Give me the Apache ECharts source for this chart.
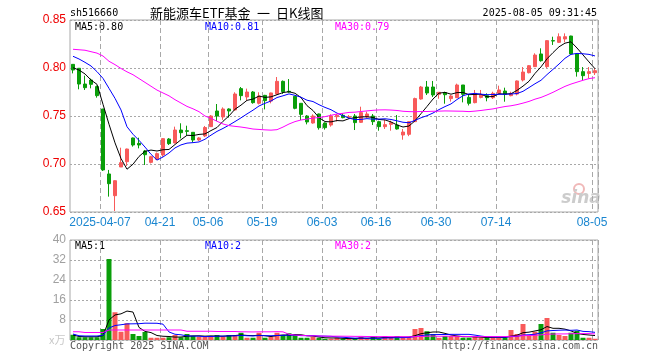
<!DOCTYPE html>
<html><head><meta charset="utf-8">
<script src="https://cdn.jsdelivr.net/npm/echarts@6/dist/echarts.min.js"></script>
<style>html,body{margin:0;padding:0;background:#fff}#c{width:660px;height:360px}</style>
</head><body><div id="c"></div>
<script>
const dates = ['2025-03-28','2025-03-31','2025-04-01','2025-04-02','2025-04-03','2025-04-07','2025-04-08','2025-04-09','2025-04-10','2025-04-11',
'2025-04-14','2025-04-15','2025-04-16','2025-04-17','2025-04-18','2025-04-21','2025-04-22','2025-04-23','2025-04-24','2025-04-25',
'2025-04-28','2025-04-29','2025-04-30','2025-05-06','2025-05-07','2025-05-08','2025-05-09','2025-05-12','2025-05-13','2025-05-14',
'2025-05-15','2025-05-16','2025-05-19','2025-05-20','2025-05-21','2025-05-22','2025-05-23','2025-05-26','2025-05-27','2025-05-28',
'2025-05-29','2025-05-30','2025-06-03','2025-06-04','2025-06-05','2025-06-06','2025-06-09','2025-06-10','2025-06-11','2025-06-12',
'2025-06-13','2025-06-16','2025-06-17','2025-06-18','2025-06-19','2025-06-20','2025-06-23','2025-06-24','2025-06-25','2025-06-26',
'2025-06-27','2025-06-30','2025-07-01','2025-07-02','2025-07-03','2025-07-04','2025-07-07','2025-07-08','2025-07-09','2025-07-10',
'2025-07-11','2025-07-14','2025-07-15','2025-07-16','2025-07-17','2025-07-18','2025-07-21','2025-07-22','2025-07-23','2025-07-24',
'2025-07-25','2025-07-28','2025-07-29','2025-07-30','2025-07-31','2025-08-01','2025-08-04','2025-08-05'];
const opens = [0.8038,0.7997,0.7833,0.7875,0.7806,0.7573,0.6896,0.6670,0.6969,0.7024,
0.7271,0.7215,0.7135,0.7017,0.7049,0.7094,0.7260,0.7219,0.7354,0.7347,
0.7330,0.7250,0.7292,0.7389,0.7552,0.7490,0.7573,0.7563,0.7785,0.7698,
0.7750,0.7632,0.7715,0.7656,0.7729,0.7861,0.7757,0.7705,0.7632,0.7500,
0.7427,0.7521,0.7427,0.7406,0.7493,0.7507,0.7486,0.7500,0.7434,0.7490,
0.7500,0.7441,0.7389,0.7413,0.7406,0.7302,0.7309,0.7441,0.7677,0.7802,
0.7802,0.7726,0.7743,0.7681,0.7691,0.7823,0.7694,0.7639,0.7694,0.7712,
0.7691,0.7736,0.7760,0.7712,0.7729,0.7875,0.7951,0.8014,0.8146,0.8014,
0.8285,0.8267,0.8302,0.8333,0.8146,0.7962,0.7944,0.7951];
const closes = [0.7979,0.7833,0.7795,0.7830,0.7712,0.6938,0.6795,0.6826,0.7014,0.7156,
0.7198,0.7198,0.7097,0.7076,0.7108,0.7264,0.7212,0.7354,0.7326,0.7340,
0.7250,0.7271,0.7380,0.7500,0.7500,0.7573,0.7552,0.7729,0.7712,0.7750,
0.7639,0.7708,0.7660,0.7740,0.7861,0.7753,0.7750,0.7580,0.7517,0.7438,
0.7500,0.7378,0.7378,0.7500,0.7507,0.7483,0.7493,0.7431,0.7535,0.7521,
0.7441,0.7389,0.7410,0.7430,0.7365,0.7333,0.7441,0.7681,0.7802,0.7740,
0.7719,0.7747,0.7722,0.7708,0.7823,0.7726,0.7632,0.7736,0.7719,0.7691,
0.7736,0.7771,0.7726,0.7736,0.7865,0.7958,0.8024,0.8135,0.8076,0.8285,
0.8281,0.8326,0.8326,0.8146,0.7962,0.7920,0.7962,0.7972];
const lows = [0.7944,0.7778,0.7771,0.7788,0.7691,0.6927,0.6660,0.6510,0.6969,0.6979,
0.7181,0.7163,0.6990,0.7006,0.7040,0.7076,0.7198,0.7215,0.7267,0.7302,
0.7226,0.7240,0.7280,0.7385,0.7448,0.7460,0.7483,0.7555,0.7663,0.7660,
0.7628,0.7620,0.7569,0.7632,0.7720,0.7730,0.7743,0.7570,0.7458,0.7413,
0.7420,0.7358,0.7358,0.7389,0.7444,0.7476,0.7470,0.7354,0.7427,0.7480,
0.7406,0.7347,0.7365,0.7347,0.7358,0.7253,0.7290,0.7441,0.7670,0.7719,
0.7698,0.7680,0.7628,0.7650,0.7688,0.7642,0.7610,0.7632,0.7684,0.7653,
0.7677,0.7730,0.7649,0.7705,0.7715,0.7860,0.7944,0.8010,0.8066,0.8000,
0.8240,0.8260,0.8267,0.8140,0.7910,0.7875,0.7892,0.7927];
const highs = [0.8040,0.8000,0.7920,0.7890,0.7817,0.7573,0.6938,0.6830,0.7170,0.7160,
0.7275,0.7274,0.7146,0.7085,0.7120,0.7270,0.7270,0.7389,0.7424,0.7399,
0.7330,0.7280,0.7396,0.7510,0.7625,0.7590,0.7580,0.7747,0.7802,0.7785,
0.7760,0.7747,0.7720,0.7743,0.7906,0.7870,0.7885,0.7705,0.7630,0.7510,
0.7517,0.7525,0.7433,0.7517,0.7521,0.7528,0.7510,0.7521,0.7597,0.7545,
0.7521,0.7451,0.7458,0.7451,0.7510,0.7365,0.7445,0.7691,0.7813,0.7865,
0.7865,0.7750,0.7753,0.7719,0.7837,0.7823,0.7720,0.7771,0.7771,0.7736,
0.7753,0.7816,0.7795,0.7753,0.7870,0.8010,0.8031,0.8153,0.8205,0.8290,
0.8326,0.8361,0.8361,0.8336,0.8150,0.8010,0.8010,0.7996];
const volumes = [2.1,1.1,1.1,1.1,1.1,4.4,32.4,11.1,3.3,6.7,
2.4,1.6,3.2,0.9,0.9,0.9,1.1,2.0,1.1,2.4,
1.6,1.3,1.3,1.6,2.0,1.3,2.0,2.0,2.9,0.9,
0.9,2.9,0.9,1.3,2.9,2.0,2.7,2.0,0.9,0.9,
1.3,0.9,0.5,0.5,0.9,0.5,0.5,0.5,1.3,0.5,
1.3,0.5,1.6,0.9,1.6,0.9,0.9,4.4,4.8,3.5,
2.4,0.9,1.6,1.6,1.6,0.9,0.9,1.3,0.9,0.9,
1.3,0.9,0.9,4.0,2.4,6.4,2.0,3.3,6.4,8.8,
2.9,2.0,1.6,2.9,3.7,0.9,0.9,0.5];
// moving-average values before enough history is on screen
const ma5Head = [0.8003,0.7979,0.7938,0.7875];
const ma10Head = [0.8122,0.8094,0.8059,0.8021,0.7962,0.7892,0.7788,0.7684,0.7563];
const ma30Head = [0.8195,0.8190,0.8185,0.8170,0.8155,0.8125,0.8070,0.8035,0.7995,0.7960,
0.7930,0.7890,0.7850,0.7810,0.7770,0.7740,0.7710,0.7670,0.7635,0.7600,
0.7575,0.7545,0.7500,0.7475,0.7445,0.7417,0.7400,0.7392,0.7385];
const vma5Head = [2.0,1.4,1.3,1.3];
const vma10Head = [2.4,1.7,1.6,1.6,1.6,1.9,4.8,5.8,6.1];
const vma30Head = [3.3,3.3,3.0,3.0,3.0,3.0,4.0,4.0,4.0,4.0,
4.0,4.0,4.0,4.0,4.0,4.0,4.0,4.0,4.0,3.5,
3.5,3.5,3.5,3.5,3.4,3.4,3.4,3.4,3.3];
const labelDates = ['2025-04-07','2025-04-21','2025-05-06','2025-05-19','2025-06-03','2025-06-16','2025-06-30','2025-07-14','2025-08-05'];
const priceMin = 0.65, priceMax = 0.85, priceStep = 0.05;
const volMin = 0, volMax = 40, volStep = 8;

function ma(src, n, head) {
  return src.map((_, i) => i < n - 1 ? head[i] :
    src.slice(i - n + 1, i + 1).reduce((a, b) => a + b, 0) / n);
}
const UP = '#f85a5a', DOWN = '#0a9e0a', GRID = '#a8a8a8';
const mono = '"DejaVu Sans Mono", monospace';
const labelIdx = new Set(labelDates.map(d => dates.indexOf(d)));
const showAt = (i) => labelIdx.has(i);
const kData = dates.map((d, i) => [opens[i], closes[i], lows[i], highs[i]]);
const volData = volumes.map((v, i) => ({ value: v, itemStyle: { color: closes[i] >= opens[i] ? UP : DOWN } }));

const chart = echarts.init(document.getElementById('c'), null, { renderer: 'canvas' });
const lineS = (name, data, color, xi, yi) => ({
  type: 'line', name, data, xAxisIndex: xi, yAxisIndex: yi, symbol: 'none', smooth: false,
  lineStyle: { width: 1, color }, itemStyle: { color }, z: 5, silent: true
});
const txt = (x, y, text, fill, font, align) => ({
  type: 'text', x, y, silent: true,
  style: { text, fill, font: font || ('10px ' + mono), align: align || 'left', verticalAlign: 'middle' }
});
chart.setOption({
  animation: false,
  backgroundColor: '#fff',
  grid: [
    { left: 70, top: 20, width: 528, height: 192, show: true, borderColor: GRID, borderWidth: 1 },
    { left: 70, top: 240, width: 528, height: 100, show: true, borderColor: GRID, borderWidth: 1 }
  ],
  xAxis: [
    { type: 'category', gridIndex: 0, data: dates, boundaryGap: true,
      axisLine: { show: false }, axisTick: { show: false },
      axisLabel: { interval: (i) => showAt(i), color: '#1a86d0', font: '10px ' + mono, margin: 5,
        padding: [0, 6, 0, 0],
        formatter: (v) => v === labelDates[0] ? v : v.slice(5) },
      splitLine: { show: true, interval: (i) => showAt(i), lineStyle: { color: GRID, type: [5, 3], width: 1 } } },
    { type: 'category', gridIndex: 1, data: dates, boundaryGap: true,
      axisLine: { show: false }, axisTick: { show: false }, axisLabel: { show: false },
      splitLine: { show: true, interval: (i) => showAt(i), lineStyle: { color: GRID, type: [5, 3], width: 1 } } }
  ],
  yAxis: [
    { type: 'value', gridIndex: 0, min: priceMin, max: priceMax, interval: priceStep,
      axisLine: { show: false }, axisTick: { show: false },
      axisLabel: { color: '#ee0000', font: '10px ' + mono, margin: 4, formatter: (v) => v.toFixed(2) },
      splitLine: { show: true, lineStyle: { color: GRID, type: [2, 2], width: 1 } } },
    { type: 'value', gridIndex: 1, min: volMin, max: volMax, interval: volStep,
      axisLine: { show: false }, axisTick: { show: false },
      axisLabel: { color: '#a0a0a0', font: '10px ' + mono, margin: 4, formatter: (v) => v === 0 ? '' : String(v) },
      splitLine: { show: true, lineStyle: { color: GRID, type: [2, 2], width: 1 } } }
  ],
  series: [
    { type: 'candlestick', name: 'K', data: kData, xAxisIndex: 0, yAxisIndex: 0, barWidth: 4,
      itemStyle: { color: UP, color0: DOWN, borderColor: UP, borderColor0: DOWN, borderWidth: 1 }, z: 3, silent: true },
    lineS('MA5', ma(closes, 5, ma5Head), '#000000', 0, 0),
    lineS('MA10', ma(closes, 10, ma10Head), '#0000ff', 0, 0),
    lineS('MA30', ma(closes, 30, ma30Head), '#ff00ff', 0, 0),
    { type: 'bar', name: 'VOL', data: volData, xAxisIndex: 1, yAxisIndex: 1, barWidth: 5, z: 3, silent: true },
    lineS('VMA5', ma(volumes, 5, vma5Head), '#000000', 1, 1),
    lineS('VMA10', ma(volumes, 10, vma10Head), '#0000ff', 1, 1),
    lineS('VMA30', ma(volumes, 30, vma30Head), '#ff00ff', 1, 1)
  ],
  graphic: [
    txt(70, 13, 'sh516660', '#000'),
    txt(150, 13, '新能源车ETF基金', '#000', '13px "Noto Sans CJK SC"'),
    txt(257, 13, '一', '#000', '13px "Noto Sans CJK SC"'),
    txt(276, 13, '日K线图', '#000', '13px "Noto Sans CJK SC"'),
    txt(597, 13, '2025-08-05 09:31:45', '#000', null, 'right'),
    txt(75, 27, 'MA5:0.80', '#000'),
    txt(205, 27, 'MA10:0.81', '#0000ff'),
    txt(335, 27, 'MA30:0.79', '#ff00ff'),
    txt(75, 246, 'MA5:1', '#000'),
    txt(205, 246, 'MA10:2', '#0000ff'),
    txt(335, 246, 'MA30:2', '#ff00ff'),
    txt(49, 340, 'x万', '#c8c8c8', '11px "Noto Sans CJK SC"'),
    txt(70, 346, 'Copyright 2025 SINA.COM', '#555'),
    txt(598, 346, 'http://finance.sina.com.cn', '#555', null, 'right'),
    { type: 'circle', shape: { cx: 579, cy: 189, r: 5 }, style: { fill: 'none', stroke: '#f0b8b8', lineWidth: 2 }, silent: true },
    txt(581, 199, 'sina', '#cccccc', 'italic bold 17px "DejaVu Sans"', 'center')
  ]
});
</script></body></html>
